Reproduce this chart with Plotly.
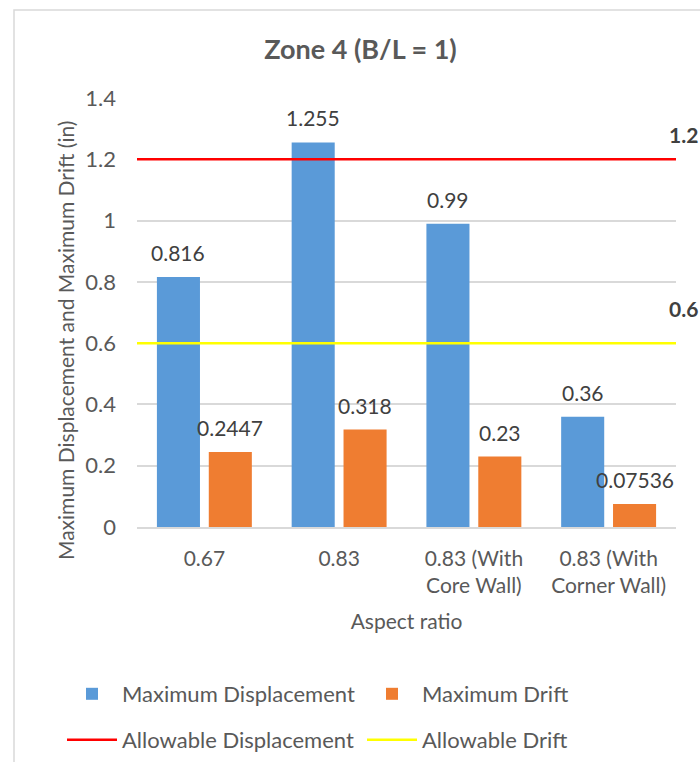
import plotly.graph_objects as go

categories = ["0.67", "0.83", "0.83 (With<br>Core Wall)", "0.83 (With<br>Corner Wall)"]
max_displacement = [0.816, 1.255, 0.99, 0.36]
max_drift = [0.2447, 0.318, 0.23, 0.07536]
disp_labels = ["0.816", "1.255", "0.99", "0.36"]
drift_labels = ["0.2447", "0.318", "0.23", "0.07536"]
allowable_displacement = 1.2
allowable_drift = 0.6

FONT = "Lato"
GRAY = "#595959"
W, H = 700, 762
MARGIN = dict(l=137, r=24, t=98, b=235)
BARGAP, BARGROUPGAP = 0.23, 0.17

fig = go.Figure()
fig.add_trace(go.Bar(
    x=categories, y=max_displacement, name="Maximum Displacement",
    marker=dict(color="#5A9AD8", line=dict(width=0)), legend="legend",
))
fig.add_trace(go.Bar(
    x=categories, y=max_drift, name="Maximum Drift",
    marker=dict(color="#EF7D31", line=dict(width=0)), legend="legend2",
))
fig.add_trace(go.Scatter(
    x=[0, 1], y=[allowable_displacement] * 2, name="Allowable Displacement",
    mode="lines", line=dict(color="#FF0000", width=2.5), xaxis="x2", legend="legend3",
))
fig.add_trace(go.Scatter(
    x=[0, 1], y=[allowable_drift] * 2, name="Allowable Drift",
    mode="lines", line=dict(color="#FFFF00", width=2.5), xaxis="x2", legend="legend4",
))

# data labels above each bar (offset to the bar's slot within its group)
plot_w = W - MARGIN["l"] - MARGIN["r"]
slot = plot_w / len(categories) * (1 - BARGAP) / 2
for vals, labels, side in ((max_displacement, disp_labels, -1), (max_drift, drift_labels, 1)):
    for i, (v, t) in enumerate(zip(vals, labels)):
        fig.add_annotation(
            x=i, y=v, xref="x", yref="y", text=t, showarrow=False,
            xanchor="center", yanchor="bottom", xshift=side * slot / 2, yshift=10,
            font=dict(family=FONT, size=21, color="#404040"),
        )

for v, dy in ((allowable_displacement, 25), (allowable_drift, 35)):
    fig.add_annotation(
        x=1, y=v, xref="x2", yref="y", text=f"<b>{v:g}</b>", showarrow=False,
        xanchor="left", yanchor="middle", xshift=-9, yshift=dy,
        font=dict(family=FONT, size=21, color="#404040"),
    )

# y-axis title (Excel centres it slightly below the plot centre)
fig.add_annotation(
    x=(65 - 137) / 539, y=(527 - 341) / 429, xref="paper", yref="paper",
    text="Maximum Displacement and Maximum Drift (in)", textangle=-90, showarrow=False,
    xanchor="center", yanchor="middle", font=dict(family=FONT, size=21, color=GRAY),
)

# chart-area border
fig.add_shape(type="rect", xref="paper", yref="paper",
              x0=(14 - 137) / 539, x1=1.5, y0=-1.0, y1=(527 - 10) / 429,
              line=dict(color="#D9D9D9", width=1.5), fillcolor="rgba(0,0,0,0)", layer="below")

legend_common = dict(orientation="h", xref="container", yref="container", xanchor="left", yanchor="top",
                     bgcolor="rgba(0,0,0,0)", font=dict(family=FONT, size=22, color=GRAY), itemwidth=50)
row1, row2 = 1 - 673 / 762, 1 - 719 / 762
col1, col2 = 62 / 700, 362 / 700

fig.update_layout(
    width=W, height=H,
    margin=MARGIN,
    paper_bgcolor="white", plot_bgcolor="white",
    font=dict(family=FONT, color=GRAY, size=22),
    title=dict(text="<b>Zone 4 (B/L = 1)</b>", x=0.515, xanchor="center", y=(762 - 50) / 762, yanchor="middle",
               font=dict(family=FONT, size=27, color=GRAY)),
    barmode="group", bargap=BARGAP, bargroupgap=BARGROUPGAP,
    xaxis=dict(
        showgrid=False, showline=True, linecolor="#D9D9D9", linewidth=1.5,
        ticks="", ticklabelstandoff=12, tickfont=dict(family=FONT, size=21, color=GRAY),
        title=dict(text="Aspect ratio", font=dict(family=FONT, size=21, color=GRAY), standoff=18),
    ),
    xaxis2=dict(overlaying="x", range=[0, 1], visible=False, fixedrange=True),
    yaxis=dict(
        range=[0, 1.4], dtick=0.2, tickformat="~g",
        showgrid=True, gridcolor="#D9D9D9", gridwidth=1.5, zeroline=False,
        showline=False, ticks="", ticklabelstandoff=20,
        tickfont=dict(family=FONT, size=22, color=GRAY),
    ),
    legend=dict(x=col1, y=row1, **legend_common),
    legend2=dict(x=col2, y=row1, **legend_common),
    legend3=dict(x=col1, y=row2, **legend_common),
    legend4=dict(x=col2, y=row2, **legend_common),
    showlegend=True,
)

fig.write_html("out.html")
